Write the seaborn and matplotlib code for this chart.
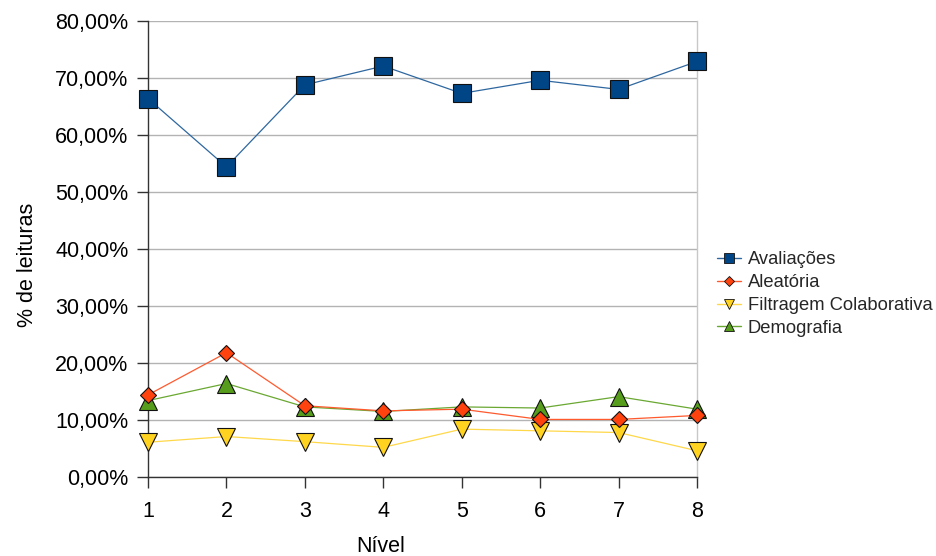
import matplotlib
matplotlib.use("Agg")
import matplotlib.pyplot as plt
import seaborn as sns
import pandas as pd
from matplotlib.ticker import FuncFormatter, MultipleLocator
from matplotlib.lines import Line2D

niveis = [1, 2, 3, 4, 5, 6, 7, 8]
avaliacoes = [66.4, 54.4, 68.8, 72.1, 67.3, 69.6, 68.0, 72.9]
aleatoria = [14.4, 21.8, 12.5, 11.6, 11.9, 10.1, 10.1, 10.8]
filtragem = [6.1, 7.1, 6.2, 5.2, 8.4, 8.1, 7.8, 4.6]
demografia = [13.4, 16.4, 12.3, 11.5, 12.3, 12.1, 14.1, 11.9]

series_names = ["Avaliações", "Aleatória", "Filtragem Colaborativa", "Demografia"]
series_values = [avaliacoes, aleatoria, filtragem, demografia]
colors = ["#004586", "#ff420e", "#ffd320", "#579d1c"]
line_colors = ["#2e67a0", "#ff5a2e", "#ffd84a", "#6aa832"]
markers = ["s", "D", "v", "^"]
msizes = [12.5, 8.5, 12.5, 12.5]
layers = [6, 5, 3, 4]

sns.set_theme(style="white")
plt.rcParams["font.family"] = ["Liberation Sans", "DejaVu Sans"]

fig = plt.figure(figsize=(9.36, 5.56), dpi=100)
ax = fig.add_axes([148 / 936, 1 - 477 / 556, (697 - 148) / 936, (477 - 21) / 556])

df = pd.DataFrame({"Nível": niveis * 4,
                   "valor": sum(series_values, []),
                   "serie": sum([[n] * len(niveis) for n in series_names], [])})

handles = []
for name, col, lcol, mk, ms, z in zip(series_names, colors, line_colors, markers, msizes, layers):
    sub = df[df["serie"] == name]
    sns.lineplot(data=sub, x="Nível", y="valor", ax=ax, color=lcol, linewidth=0.9,
                 marker=mk, markersize=ms, markerfacecolor=col, markeredgecolor="#111111",
                 markeredgewidth=0.8, clip_on=False, zorder=z, legend=False)
    handles.append(Line2D([], [], color=lcol, linewidth=1.0, marker=mk,
                          markersize=ms * 0.62, markerfacecolor=col,
                          markeredgecolor="#111111", markeredgewidth=0.6, label=name))

ax.set_xlim(1, 8)
ax.set_ylim(0, 80)
ax.set_xticks(niveis)
ax.yaxis.set_major_locator(MultipleLocator(10))
ax.yaxis.set_major_formatter(FuncFormatter(lambda v, p: f"{v:.2f}".replace(".", ",") + "%"))

ax.grid(axis="y", color="#b3b3b3", linewidth=1.0)
ax.grid(axis="x", visible=False)
ax.set_axisbelow(True)

for s in ["left", "bottom"]:
    ax.spines[s].set_color("#333333")
    ax.spines[s].set_linewidth(1.0)
ax.spines["top"].set_visible(False)
ax.spines["right"].set_color("#c8c8c8")
ax.spines["right"].set_linewidth(1.0)

ax.tick_params(axis="both", which="major", direction="out", length=8, width=1.0,
               color="#333333", labelsize=15.5, labelcolor="#000000", pad=6,
               left=True, bottom=True)
ax.tick_params(axis="x", pad=9)

ax.set_xlabel("Nível", fontsize=15.5, color="#000000")
ax.set_ylabel("% de leituras", fontsize=15.5, color="#000000")
ax.xaxis.set_label_coords(0.423, -0.13)
ax.yaxis.set_label_coords(-0.2, 0.465)

fig.legend(handles=handles, loc="center left", bbox_to_anchor=(710 / 936, 1 - 294 / 556),
           frameon=False, fontsize=13.2, handlelength=1.3, handletextpad=0.35,
           labelspacing=0.32, borderaxespad=0)

fig.savefig("out.png", dpi=100)
